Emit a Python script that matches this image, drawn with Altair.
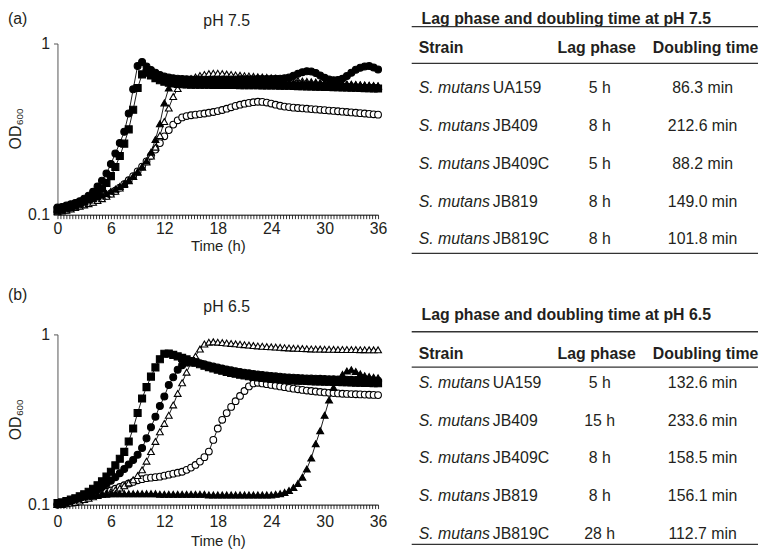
import altair as alt
import pandas as pd

FONT = "Liberation Sans"
INK = "#231f20"

# ---------------- data ----------------
TIMES = [i * 0.5 for i in range(73)]          # h, 0 .. 36
STRAINS = ["JB409", "JB819", "JB819C", "JB409C", "UA159"]   # draw order (open first)
SHAPES = ["circle", "triangle-up", "triangle-up", "circle", "square"]
FILLS = ["white", "white", "black", "black", "black"]
SIZES = [46, 50, 46, 40, 40]

# pH 7.5 growth curves (OD600)
A_UA159 = [0.106, 0.107, 0.109, 0.111, 0.113, 0.116, 0.119, 0.123, 0.128, 0.134,
           0.142, 0.153, 0.168, 0.190, 0.220, 0.260, 0.315, 0.410, 0.550, 0.660,
           0.675, 0.650, 0.628, 0.610, 0.598, 0.590, 0.584, 0.580, 0.578, 0.576,
           0.575, 0.575, 0.574, 0.574, 0.574, 0.573, 0.573, 0.573, 0.572, 0.572,
           0.572, 0.571, 0.571, 0.571, 0.570, 0.570, 0.569, 0.569, 0.568, 0.568,
           0.567, 0.566, 0.566, 0.565, 0.564, 0.563, 0.562, 0.561, 0.560, 0.559,
           0.558, 0.557, 0.556, 0.555, 0.554, 0.553, 0.552, 0.551, 0.550, 0.549,
           0.548, 0.547, 0.546]
A_JB409C = [0.110, 0.111, 0.113, 0.115, 0.117, 0.120, 0.124, 0.129, 0.136, 0.146,
            0.158, 0.174, 0.198, 0.228, 0.262, 0.305, 0.390, 0.540, 0.740, 0.780,
            0.735, 0.700, 0.675, 0.655, 0.642, 0.633, 0.627, 0.623, 0.620, 0.618,
            0.617, 0.616, 0.616, 0.615, 0.615, 0.615, 0.615, 0.616, 0.616, 0.617,
            0.617, 0.618, 0.618, 0.619, 0.619, 0.620, 0.620, 0.621, 0.621, 0.622,
            0.623, 0.626, 0.632, 0.648, 0.665, 0.680, 0.688, 0.686, 0.672, 0.650,
            0.630, 0.616, 0.610, 0.612, 0.622, 0.645, 0.675, 0.703, 0.722, 0.734,
            0.738, 0.725, 0.705]
A_JB819C = [0.108, 0.110, 0.112, 0.114, 0.116, 0.118, 0.120, 0.122, 0.124, 0.127,
            0.130, 0.133, 0.137, 0.141, 0.146, 0.152, 0.159, 0.167, 0.177, 0.190,
            0.206, 0.232, 0.275, 0.340, 0.450, 0.550, 0.590, 0.603, 0.605, 0.605,
            0.604, 0.604, 0.603, 0.603, 0.602, 0.602, 0.601, 0.601, 0.600, 0.600,
            0.600, 0.599, 0.599, 0.598, 0.598, 0.597, 0.597, 0.596, 0.596, 0.595,
            0.594, 0.593, 0.592, 0.591, 0.590, 0.589, 0.588, 0.587, 0.586, 0.585,
            0.584, 0.583, 0.582, 0.581, 0.580, 0.578, 0.576, 0.574, 0.572, 0.570,
            0.568, 0.566, 0.564]
A_JB819 = [0.104, 0.105, 0.106, 0.108, 0.110, 0.112, 0.114, 0.116, 0.118, 0.121,
           0.124, 0.128, 0.132, 0.137, 0.143, 0.150, 0.158, 0.167, 0.178, 0.190,
           0.203, 0.220, 0.248, 0.290, 0.350, 0.420, 0.490, 0.545, 0.590, 0.612,
           0.625, 0.638, 0.650, 0.660, 0.667, 0.670, 0.670, 0.667, 0.663, 0.659,
           0.655, 0.652, 0.649, 0.646, 0.643, 0.640, 0.637, 0.634, 0.631, 0.627,
           0.623, 0.619, 0.615, 0.611, 0.607, 0.604, 0.601, 0.598, 0.595, 0.592,
           0.590, 0.588, 0.586, 0.584, 0.582, 0.580, 0.578, 0.576, 0.574, 0.572,
           0.570, 0.568, 0.566]
A_JB409 = [0.105, 0.106, 0.107, 0.109, 0.111, 0.113, 0.115, 0.117, 0.119, 0.122,
           0.125, 0.129, 0.133, 0.138, 0.144, 0.151, 0.159, 0.168, 0.179, 0.191,
           0.205, 0.221, 0.240, 0.262, 0.287, 0.312, 0.336, 0.356, 0.370, 0.377,
           0.381, 0.384, 0.387, 0.390, 0.394, 0.398, 0.403, 0.409, 0.416, 0.424,
           0.432, 0.439, 0.445, 0.450, 0.454, 0.457, 0.456, 0.452, 0.446, 0.439,
           0.433, 0.428, 0.425, 0.422, 0.420, 0.418, 0.416, 0.414, 0.412, 0.410,
           0.408, 0.406, 0.404, 0.402, 0.400, 0.398, 0.396, 0.394, 0.392, 0.390,
           0.388, 0.386, 0.384]

# pH 6.5 growth curves (OD600)
B_UA159 = [0.102, 0.103, 0.105, 0.107, 0.109, 0.112, 0.115, 0.119, 0.124, 0.130,
           0.137, 0.146, 0.156, 0.170, 0.186, 0.204, 0.235, 0.280, 0.345, 0.420,
           0.490, 0.565, 0.640, 0.715, 0.770, 0.772, 0.758, 0.743, 0.728, 0.713,
           0.698, 0.683, 0.668, 0.654, 0.642, 0.631, 0.621, 0.611, 0.602, 0.594,
           0.587, 0.580, 0.574, 0.568, 0.563, 0.559, 0.555, 0.551, 0.548, 0.545,
           0.543, 0.541, 0.539, 0.537, 0.535, 0.534, 0.533, 0.531, 0.530, 0.529,
           0.528, 0.527, 0.526, 0.525, 0.524, 0.523, 0.522, 0.521, 0.520, 0.519,
           0.518, 0.517, 0.516]
B_JB409C = [0.100, 0.101, 0.103, 0.105, 0.107, 0.109, 0.112, 0.115, 0.118, 0.122,
            0.127, 0.132, 0.138, 0.145, 0.153, 0.162, 0.172, 0.183, 0.196, 0.215,
            0.245, 0.285, 0.328, 0.380, 0.432, 0.505, 0.560, 0.620, 0.660, 0.683,
            0.690, 0.686, 0.677, 0.667, 0.657, 0.647, 0.638, 0.630, 0.622, 0.615,
            0.608, 0.602, 0.596, 0.591, 0.586, 0.582, 0.578, 0.574, 0.570, 0.567,
            0.564, 0.561, 0.559, 0.557, 0.555, 0.553, 0.551, 0.550, 0.549, 0.548,
            0.547, 0.546, 0.545, 0.544, 0.543, 0.542, 0.541, 0.540, 0.539, 0.538,
            0.537, 0.536, 0.535]
B_JB819 = [0.100, 0.100, 0.101, 0.102, 0.103, 0.105, 0.107, 0.109, 0.111, 0.113,
           0.115, 0.117, 0.119, 0.122, 0.125, 0.129, 0.134, 0.140, 0.148, 0.160,
           0.180, 0.205, 0.235, 0.268, 0.300, 0.335, 0.385, 0.450, 0.520, 0.600,
           0.680, 0.745, 0.820, 0.878, 0.900, 0.905, 0.900, 0.895, 0.890, 0.885,
           0.880, 0.875, 0.870, 0.865, 0.860, 0.856, 0.852, 0.848, 0.845, 0.842,
           0.839, 0.836, 0.833, 0.830, 0.828, 0.826, 0.824, 0.822, 0.821, 0.820,
           0.819, 0.818, 0.817, 0.816, 0.815, 0.815, 0.814, 0.814, 0.813, 0.813,
           0.812, 0.812, 0.812]
B_JB409 = [0.100, 0.101, 0.102, 0.103, 0.105, 0.107, 0.109, 0.111, 0.113, 0.115,
           0.117, 0.119, 0.121, 0.124, 0.127, 0.130, 0.133, 0.136, 0.139, 0.141,
           0.143, 0.144, 0.145, 0.146, 0.148, 0.150, 0.152, 0.154, 0.156, 0.160,
           0.165, 0.171, 0.179, 0.190, 0.205, 0.240, 0.280, 0.315, 0.345, 0.375,
           0.405, 0.435, 0.465, 0.495, 0.515, 0.520, 0.515, 0.510, 0.505, 0.500,
           0.495, 0.490, 0.485, 0.480, 0.476, 0.472, 0.468, 0.465, 0.462, 0.459,
           0.456, 0.454, 0.452, 0.450, 0.448, 0.447, 0.446, 0.445, 0.444, 0.443,
           0.442, 0.441, 0.440]
B_JB819C = [0.100, 0.102, 0.104, 0.106, 0.108, 0.110, 0.111, 0.112, 0.113, 0.114,
            0.115, 0.115, 0.116, 0.116, 0.116, 0.116, 0.116, 0.116, 0.116, 0.116,
            0.116, 0.116, 0.116, 0.115, 0.115, 0.115, 0.115, 0.115, 0.115, 0.115,
            0.115, 0.115, 0.115, 0.115, 0.114, 0.114, 0.114, 0.114, 0.114, 0.114,
            0.114, 0.114, 0.114, 0.114, 0.114, 0.114, 0.114, 0.114, 0.114, 0.115,
            0.116, 0.118, 0.121, 0.126, 0.133, 0.145, 0.162, 0.188, 0.228, 0.272,
            0.335, 0.412, 0.488, 0.540, 0.582, 0.610, 0.620, 0.605, 0.586, 0.572,
            0.565, 0.560, 0.556]

# tables
CODES = ["UA159", "JB409", "JB409C", "JB819", "JB819C"]
LAG_75 = [5, 8, 5, 8, 8]
DBL_75 = [86.3, 212.6, 88.2, 149.0, 101.8]
LAG_65 = [5, 15, 8, 8, 28]
DBL_65 = [132.6, 233.6, 158.5, 156.1, 112.7]

X_TICKS = [round(i / 3, 4) for i in range(109)]
Y_TICKS = [0.1, 1]


def long_df(series):
    rows = []
    for s in STRAINS:
        for t, v in zip(TIMES, series[s]):
            rows.append({"strain": s, "t": t, "od": v})
    return pd.DataFrame(rows)


def txt(s, xv, yv, size=16, align="center", angle=0, weight="normal"):
    return alt.Chart(pd.DataFrame({"s": [s]})).mark_text(
        fontSize=size, align=align, baseline="middle", angle=angle, color=INK,
        font=FONT, fontWeight=weight
    ).encode(text="s:N", x=alt.value(xv), y=alt.value(yv))


def panel(series, tag, ph, tag_y, ph_y, h, lab_pad, title_pad):
    df = long_df(series)
    x = alt.X("t:Q", scale=alt.Scale(domain=[0, 36], nice=False),
              axis=alt.Axis(values=X_TICKS, tickSize=4, tickColor="black", domainColor="black",
                            tickWidth=0.8, domainWidth=1,
                            labelExpr="abs(datum.value - 6*round(datum.value/6)) < 0.01 ? format(round(datum.value), 'd') : ''",
                            labelOverlap=False, labelFlush=False, labelPadding=lab_pad,
                            labelFontSize=16, title="Time (h)", titleFontSize=15,
                            titleFontWeight="normal", titlePadding=title_pad))
    y = alt.Y("od:Q", scale=alt.Scale(type="log", domain=[0.1, 1], nice=False),
              axis=alt.Axis(values=Y_TICKS, format="~g", tickSize=4, labelPadding=4,
                            labelFontSize=16, title=None, domainColor="#555",
                            tickColor="#555"))
    lines = alt.Chart(df).mark_line(color="black", strokeWidth=0.9).encode(
        x=x, y=y, detail="strain:N")
    pts = alt.Chart(df).mark_point(filled=True, stroke="black", strokeWidth=1.1, opacity=1).encode(
        x=x, y=y,
        shape=alt.Shape("strain:N", scale=alt.Scale(domain=STRAINS, range=SHAPES), legend=None),
        fill=alt.Fill("strain:N", scale=alt.Scale(domain=STRAINS, range=FILLS), legend=None),
        size=alt.Size("strain:N", scale=alt.Scale(domain=STRAINS, range=SIZES), legend=None),
    )
    od = txt("OD", -42, 95, 16, angle=270)
    sub = txt("600", -38, 74, 10, angle=270)
    lab = txt(tag, -50, tag_y, 16, align="left")
    ttl = txt(ph, 171, ph_y, 16)
    return alt.layer(lines, pts, od, sub, lab, ttl).properties(width=324, height=h)


def table(title, lag, dbl, L):
    df = pd.DataFrame({"row": [1, 2, 3, 4, 5], "code": CODES, "lag": lag, "dbl": dbl})
    base = alt.Chart(df).transform_calculate(
        lag_txt="datum.lag + ' h'",
        dbl_txt="format(datum.dbl, '.1f') + ' min'",
    )
    y = alt.Y("row:Q", scale=alt.Scale(domain=[1, 5], range=[L["r1"], L["r5"]]), axis=None)
    common = dict(fontSize=16, baseline="middle", color=INK, font=FONT)
    sp = base.mark_text(align="left", fontStyle="italic", **common).encode(
        x=alt.value(7), y=y, text=alt.value("S. mutans"))
    cd = base.mark_text(align="left", **common).encode(x=alt.value(82), y=y, text="code:N")
    lg = base.mark_text(align="center", **common).encode(x=alt.value(190), y=y, text="lag_txt:N")
    db = base.mark_text(align="center", **common).encode(x=alt.value(294), y=y, text="dbl_txt:N")

    one = pd.DataFrame({"k": [0]})

    def rule(yv):
        return alt.Chart(one).mark_rule(color="#333333", strokeWidth=1.3).encode(
            x=alt.value(0), x2=alt.value(350), y=alt.value(yv))

    layers = [
        txt(title, 10, L["title"], 16, align="left", weight="bold"),
        rule(L["top"]),
        txt("Strain", 7, L["head"], 16, align="left", weight="bold"),
        txt("Lag phase", 187, L["head"], 16, weight="bold"),
        txt("Doubling time", 297, L["head"], 16, weight="bold"),
        rule(L["hrule"]),
        sp, cd, lg, db,
        rule(L["bottom"]),
    ]
    return alt.layer(*layers).properties(width=350, height=L["h"])


SER_A = {"UA159": A_UA159, "JB409": A_JB409, "JB409C": A_JB409C, "JB819": A_JB819, "JB819C": A_JB819C}
SER_B = {"UA159": B_UA159, "JB409": B_JB409, "JB409C": B_JB409C, "JB819": B_JB819, "JB819C": B_JB819C}

# table layout, in px relative to the top of the neighbouring plot area
LAY_A = {"title": -25, "top": -17, "head": 5, "hrule": 20, "r1": 45, "r5": 198, "bottom": 212, "h": 212}
LAY_B = {"title": -19.3, "top": -2.7, "head": 20, "hrule": 33, "r1": 49, "r5": 201.7, "bottom": 212.3, "h": 212}

pa = panel(SER_A, "(a)", "pH 7.5", -25, -23, 173, 2, 2.5)
pb = panel(SER_B, "(b)", "pH 6.5", -39.3, -28, 172, 5, 4)
ta = table("Lag phase and doubling time at pH 7.5", LAG_75, DBL_75, LAY_A)
tb = table("Lag phase and doubling time at pH 6.5", LAG_65, DBL_65, LAY_B)

chart = alt.vconcat(
    alt.hconcat(pa, ta, spacing=24),
    alt.hconcat(pb, tb, spacing=24),
    spacing=33,
).properties(padding=0).configure(font=FONT).configure_view(stroke=None).configure_axis(
    grid=False, labelFont=FONT, titleFont=FONT, labelColor=INK, titleColor=INK
)

chart.save("out.html", embed_options={"renderer": "svg", "actions": False})
